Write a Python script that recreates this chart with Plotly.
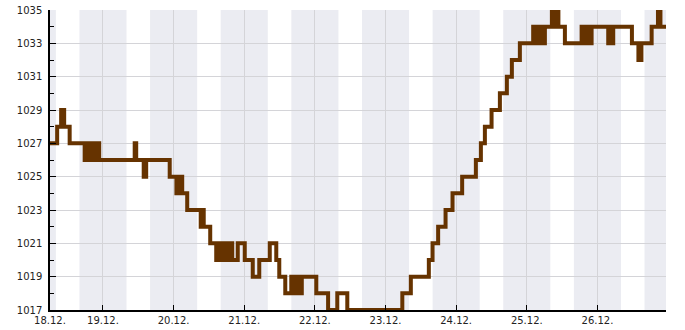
import pandas as pd
import plotly.graph_objects as go

# Hours since 18.12. 00:00 at which each pressure step begins
step_hours = [
    6.0, 8.43, 9.79, 10.81, 12.68, 17.78, 18.46, 18.97, 19.82, 20.33, 21.18, 21.69, 22.20, 22.71,
    34.78, 35.29, 37.84, 38.68, 46.67, 48.95, 49.39, 49.90, 50.41, 50.92, 52.62,
    57.21, 57.72, 58.23, 60.44, 62.48, 63.67, 64.18, 65.03, 65.54, 66.39, 66.90, 67.41, 67.92,
    69.79, 72.17, 74.89, 77.10, 80.67, 82.88, 83.90, 85.94, 87.98, 88.49, 89.17, 89.68,
    90.53, 91.04, 91.55, 96.48, 100.49, 103.61, 107.01, 125.71, 128.60, 134.72, 135.98,
    137.88, 140.40, 142.77, 146.04, 150.70, 152.40, 153.76, 156.03, 158.86, 161.23, 162.93,
    165.65, 170.17, 170.75, 171.43, 172.11, 172.62, 173.03, 174.15, 176.53, 177.21, 177.72,
    178.74, 180.95, 186.63, 187.07, 187.75, 188.26, 188.94, 189.45, 190.02, 195.67, 196.25,
    196.75, 197.37, 203.72, 205.93, 206.95, 210.42, 212.57, 213.41, 215.3,
]
# Air pressure (hPa)
pressure_hpa = [
    1027, 1028, 1029, 1028, 1027, 1026, 1027, 1026, 1027, 1026, 1027, 1026, 1027, 1026,
    1027, 1026, 1025, 1026, 1025, 1024, 1025, 1024, 1025, 1024, 1023,
    1022, 1023, 1022, 1021, 1020, 1021, 1020, 1021, 1020, 1021, 1020, 1021, 1020,
    1021, 1020, 1019, 1020, 1021, 1020, 1019, 1018, 1019, 1018, 1019, 1018,
    1019, 1018, 1019, 1018, 1017, 1018, 1017, 1018, 1019, 1020, 1021,
    1022, 1023, 1024, 1025, 1026, 1027, 1028, 1029, 1030, 1031, 1032,
    1033, 1034, 1033, 1034, 1033, 1034, 1033, 1034, 1035, 1034, 1035,
    1034, 1033, 1034, 1033, 1034, 1033, 1034, 1033, 1034, 1033, 1034,
    1033, 1034, 1033, 1032, 1033, 1034, 1035, 1034, 1034,
]

day_labels = ["18.12.", "19.12.", "20.12.", "21.12.", "22.12.", "23.12.", "24.12.", "25.12.", "26.12."]
y_ticks = [1017, 1019, 1021, 1023, 1025, 1027, 1029, 1031, 1033, 1035]
y_minor = [1018, 1020, 1022, 1024, 1026, 1028, 1030, 1032, 1034]
night_start_hour = 16
night_end_hour = 8

base = pd.Timestamp("2023-12-18 00:00")
times = [base + pd.Timedelta(hours=h) for h in step_hours]
x_start = times[0]
x_end = times[-1]

fig = go.Figure()

# night bands
shapes = []
for d in range(-1, 9):
    s = base + pd.Timedelta(days=d, hours=night_start_hour)
    e = base + pd.Timedelta(days=d + 1, hours=night_end_hour)
    s = max(s, x_start)
    e = min(e, x_end)
    if e <= s:
        continue
    shapes.append(dict(type="rect", xref="x", yref="paper", x0=s, x1=e, y0=0, y1=1,
                       fillcolor="#ebecf2", line=dict(width=0), layer="below"))

fig.add_trace(go.Scatter(x=times, y=pressure_hpa, mode="lines", line=dict(color="#663300", width=4, shape="hv"),
                         hoverinfo="x+y", showlegend=False))

tickvals = [x_start] + [base + pd.Timedelta(days=i) for i in range(1, 9)]

fig.update_layout(
    width=685, height=330,
    margin=dict(l=50, r=19, t=10, b=20, autoexpand=False),
    paper_bgcolor="white", plot_bgcolor="white",
    font=dict(family="DejaVu Sans", size=10, color="#222"),
    shapes=shapes,
    xaxis=dict(range=[x_start, x_end], tickvals=tickvals, ticktext=day_labels, automargin=False,
               ticks="inside", ticklen=5, tickcolor="black", tickwidth=1,
               showline=True, linecolor="black", linewidth=1.5,
               showgrid=True, gridcolor="#d4d4d8", gridwidth=1, zeroline=False),
    yaxis=dict(range=[1017, 1035], tickvals=y_ticks, ticktext=[str(v) for v in y_ticks], automargin=False,
               ticks="inside", ticklen=6, tickcolor="black", tickwidth=1,
               showline=True, linecolor="black", linewidth=1.5,
               showgrid=True, gridcolor="#d4d4d8", gridwidth=1, zeroline=False,
               ticklabelstandoff=4,
               minor=dict(tickvals=y_minor, ticks="inside", ticklen=4, tickcolor="black", showgrid=False)),
)

fig.write_html("out.html")
